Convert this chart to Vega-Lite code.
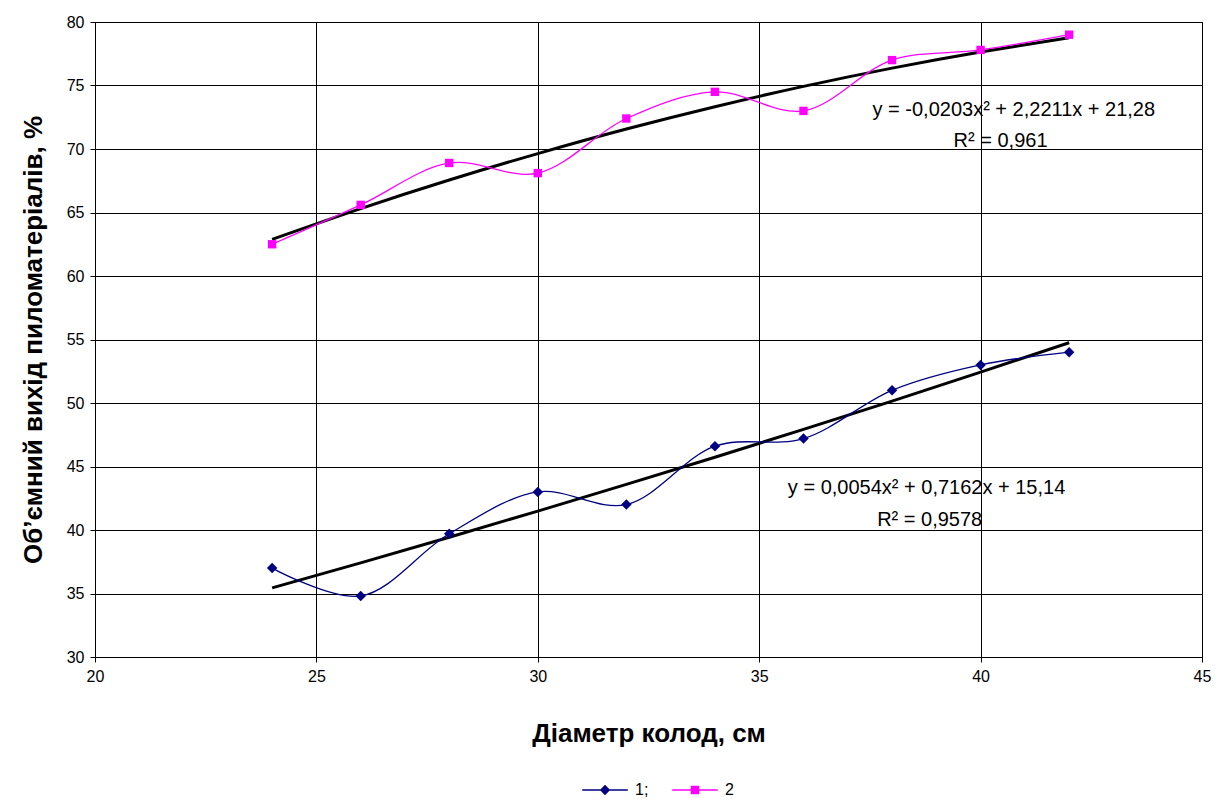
{
  "$schema": "https://vega.github.io/schema/vega-lite/v6.json",
  "width": 1107,
  "height": 635,
  "autosize": "none",
  "padding": {"left": 95, "top": 22, "right": 21, "bottom": 143},
  "background": "white",
  "config": {
    "font": "Liberation Sans",
    "view": {"stroke": "black", "strokeWidth": 1},
    "axis": {
      "grid": true, "gridColor": "black", "gridOpacity": 1, "gridWidth": 1,
      "domain": false, "tickColor": "black", "tickSize": 5, "labelFlush": false,
      "labelFont": "Liberation Sans", "labelFontSize": 16, "labelColor": "black",
      "titleFont": "Liberation Sans", "titleFontSize": 26, "titleFontWeight": "bold", "titleColor": "black"
    },
    "legend": {"labelFontSize": 16, "labelColor": "black", "symbolSize": 130, "symbolOpacity": 1, "symbolStrokeWidth": 0}
  },
  "datasets": {
    "obs": [
      {"d": 24, "v": 37.0, "s": "1"}, {"d": 26, "v": 34.8, "s": "1"}, {"d": 28, "v": 39.7, "s": "1"},
      {"d": 30, "v": 43.0, "s": "1"}, {"d": 32, "v": 42.0, "s": "1"}, {"d": 34, "v": 46.6, "s": "1"},
      {"d": 36, "v": 47.2, "s": "1"}, {"d": 38, "v": 51.0, "s": "1"}, {"d": 40, "v": 53.0, "s": "1"},
      {"d": 42, "v": 54.0, "s": "1"},
      {"d": 24, "v": 62.5, "s": "2"}, {"d": 26, "v": 65.6, "s": "2"}, {"d": 28, "v": 68.9, "s": "2"},
      {"d": 30, "v": 68.1, "s": "2"}, {"d": 32, "v": 72.4, "s": "2"}, {"d": 34, "v": 74.5, "s": "2"},
      {"d": 36, "v": 73.0, "s": "2"}, {"d": 38, "v": 77.0, "s": "2"}, {"d": 40, "v": 77.8, "s": "2"},
      {"d": 42, "v": 79.0, "s": "2"}
    ],
    "trend": [
      {"d": 24, "v": 35.44, "s": "1"}, {"d": 26, "v": 37.41, "s": "1"}, {"d": 28, "v": 39.43, "s": "1"},
      {"d": 30, "v": 41.49, "s": "1"}, {"d": 32, "v": 43.59, "s": "1"}, {"d": 34, "v": 45.73, "s": "1"},
      {"d": 36, "v": 47.92, "s": "1"}, {"d": 38, "v": 50.15, "s": "1"}, {"d": 40, "v": 52.43, "s": "1"},
      {"d": 42, "v": 54.75, "s": "1"},
      {"d": 24, "v": 62.89, "s": "2"}, {"d": 26, "v": 65.31, "s": "2"}, {"d": 28, "v": 67.56, "s": "2"},
      {"d": 30, "v": 69.64, "s": "2"}, {"d": 32, "v": 71.57, "s": "2"}, {"d": 34, "v": 73.33, "s": "2"},
      {"d": 36, "v": 74.93, "s": "2"}, {"d": 38, "v": 76.37, "s": "2"}, {"d": 40, "v": 77.64, "s": "2"},
      {"d": 42, "v": 78.76, "s": "2"}
    ],
    "keys": [{"s": "leg1"}, {"s": "leg2"}],
    "notes": [
      {"t": "y = -0,0203x² + 2,2211x + 21,28"},
      {"t": "R² = 0,961"},
      {"t": "y = 0,0054x² + 0,7162x + 15,14"},
      {"t": "R² = 0,9578"}
    ]
  },
  "layer": [
    {
      "data": {"name": "trend"},
      "mark": {"type": "line", "color": "black", "strokeWidth": 3, "interpolate": "natural"},
      "encoding": {
        "x": {"field": "d", "type": "quantitative", "scale": {"domain": [20, 45], "nice": false},
              "axis": {"values": [20, 25, 30, 35, 40, 45], "title": "Діаметр колод, см", "titlePadding": 36, "labelPadding": 6}},
        "y": {"field": "v", "type": "quantitative", "scale": {"domain": [30, 80], "nice": false},
              "axis": {"values": [30, 35, 40, 45, 50, 55, 60, 65, 70, 75, 80], "title": "Об’ємний вихід пиломатеріалів, %", "titlePadding": 20, "labelPadding": 6}},
        "detail": {"field": "s"}
      }
    },
    {
      "data": {"name": "obs"},
      "mark": {"type": "line", "strokeWidth": 1.3, "interpolate": "catmull-rom"},
      "encoding": {
        "x": {"field": "d", "type": "quantitative"},
        "y": {"field": "v", "type": "quantitative"},
        "color": {"field": "s", "type": "nominal",
                  "scale": {"domain": ["1", "2", "leg1", "leg2"], "range": ["#000080", "#FF00FF", "#000080", "#FF00FF"]}}
      }
    },
    {
      "data": {"name": "obs"},
      "mark": {"type": "point", "filled": true, "opacity": 1, "size": 110},
      "encoding": {
        "x": {"field": "d", "type": "quantitative"},
        "y": {"field": "v", "type": "quantitative"},
        "color": {"field": "s", "type": "nominal"},
        "shape": {"field": "s", "type": "nominal",
                  "scale": {"domain": ["1", "2", "leg1", "leg2"], "range": ["diamond",
                    "M-0.8,-0.8H0.8V0.8H-0.8Z",
                    "M-4,-0.12H4V0.12H-4Z M-0.9,0L0,-0.9L0.9,0L0,0.9Z",
                    "M-4,-0.12H4V0.12H-4Z M-0.75,-0.75H0.75V0.75H-0.75Z"]}}
      }
    },
    {
      "data": {"name": "keys"},
      "mark": {"type": "point", "filled": true, "opacity": 0},
      "encoding": {
        "x": {"datum": 20},
        "y": {"datum": 30},
        "color": {"field": "s", "type": "nominal",
                  "legend": {"orient": "none", "legendX": 502, "legendY": 760, "direction": "horizontal", "title": null,
                             "values": ["leg1", "leg2"],
                             "symbolOpacity": 1, "symbolSize": 130, "symbolStrokeWidth": 0,
                             "labelFontSize": 16, "labelColor": "black", "labelExpr": "datum.label == 'leg1' ? '1;' : '2'",
                             "columnPadding": 23, "labelOffset": 22}},
        "shape": {"field": "s", "type": "nominal"}
      }
    },
    {
      "data": {"name": "notes"},
      "transform": [{"filter": "datum.t == 'y = -0,0203x² + 2,2211x + 21,28'"}],
      "mark": {"type": "text", "fontSize": 20, "color": "black", "align": "center", "baseline": "middle"},
      "encoding": {"x": {"datum": 40.75}, "y": {"datum": 73.1}, "text": {"field": "t"}}
    },
    {
      "data": {"name": "notes"},
      "transform": [{"filter": "datum.t == 'R² = 0,961'"}],
      "mark": {"type": "text", "fontSize": 20, "color": "black", "align": "center", "baseline": "middle"},
      "encoding": {"x": {"datum": 40.45}, "y": {"datum": 70.6}, "text": {"field": "t"}}
    },
    {
      "data": {"name": "notes"},
      "transform": [{"filter": "datum.t == 'y = 0,0054x² + 0,7162x + 15,14'"}],
      "mark": {"type": "text", "fontSize": 20, "color": "black", "align": "center", "baseline": "middle"},
      "encoding": {"x": {"datum": 38.78}, "y": {"datum": 43.3}, "text": {"field": "t"}}
    },
    {
      "data": {"name": "notes"},
      "transform": [{"filter": "datum.t == 'R² = 0,9578'"}],
      "mark": {"type": "text", "fontSize": 20, "color": "black", "align": "center", "baseline": "middle"},
      "encoding": {"x": {"datum": 38.85}, "y": {"datum": 40.8}, "text": {"field": "t"}}
    }
  ]
}
